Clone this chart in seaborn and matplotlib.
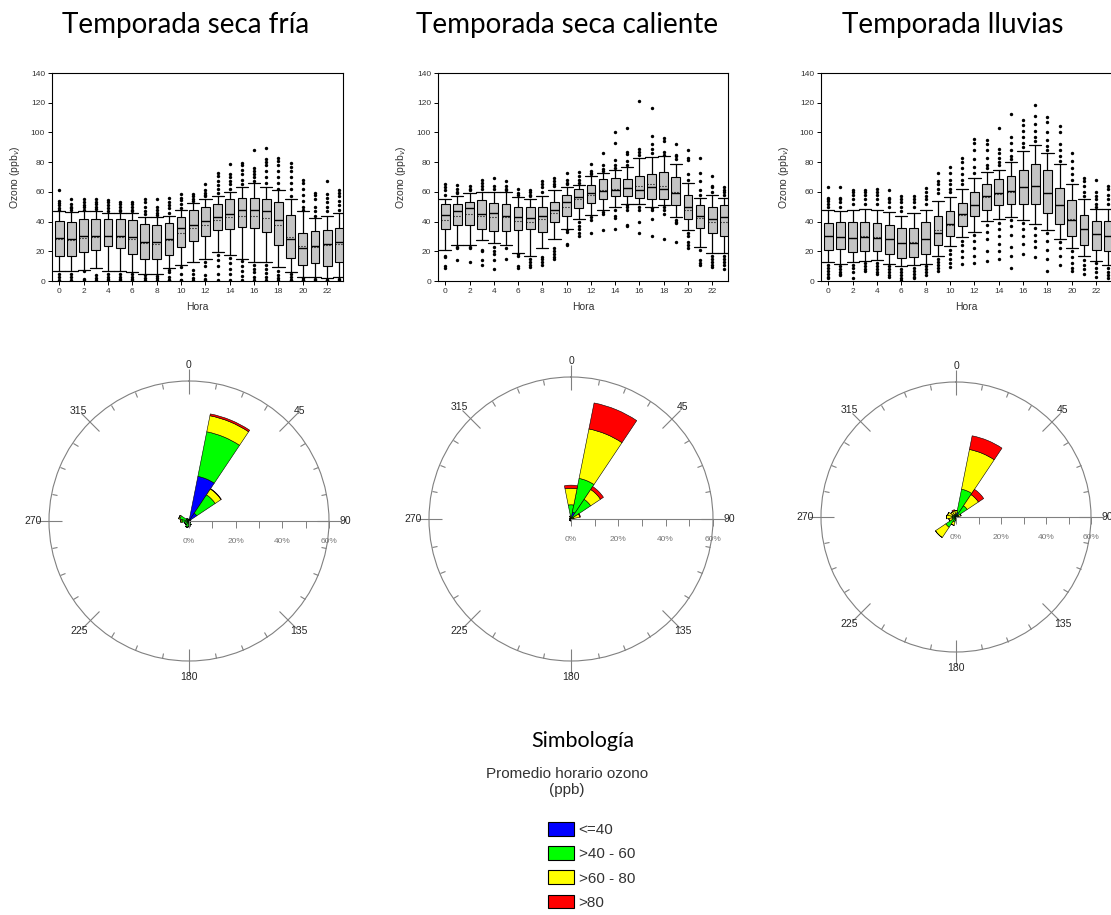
import numpy as np
import pandas as pd
import matplotlib
matplotlib.use("Agg")
import matplotlib.pyplot as plt
from matplotlib.patches import Patch
import seaborn as sns

# ---------------- data: hourly ozone box statistics ----------------
hours = list(range(24))
seasons = ["Temporada seca fría", "Temporada seca caliente", "Temporada lluvias"]

# Temporada seca fria
fria_p10 = [7, 7, 7.5, 9, 7, 7, 6, 5, 5, 8.5, 11, 12.5, 15, 19.5, 17.5, 15, 12.5, 13, 9.5, 6, 2.5, 2.5, 2, 2.5]
fria_q1 = [17, 16.5, 19.5, 21, 23.5, 22, 18.5, 14.5, 14.5, 17.5, 23, 27, 30.5, 34.5, 35, 36.5, 36, 33, 24, 15.5, 11, 12, 10, 12.5]
fria_med = [29, 28.5, 30.5, 30.5, 30.5, 30.5, 29.5, 26.5, 26.5, 28.5, 35.5, 37.5, 40.5, 43, 45, 47.5, 48, 47, 41, 28, 22.5, 23.5, 25, 26]
fria_q3 = [40.5, 40, 42, 42, 42, 41.5, 41, 38.5, 37.5, 39, 43, 48, 49.5, 52, 55, 56, 56, 55.5, 53.5, 44.5, 32.5, 33.5, 34.5, 36]
fria_p90 = [47, 46.5, 47, 47, 45.5, 45.5, 46, 43, 43, 44, 47.5, 52.5, 55.5, 57.5, 60, 63.5, 66, 63, 61, 55.5, 47, 42.5, 44, 45.5]
fria_mean = [28, 27.5, 29, 29.5, 30, 29.5, 28, 25.5, 25, 27.5, 32.5, 35.5, 38, 41, 43, 43.5, 43.5, 42.5, 38, 29.5, 23.5, 23, 24.5, 25]
fria_out = [
    [61.5, 54, 52.5, 51, 49, 48, 5, 3, 1, 0],
    [55.5, 51.5, 50, 49, 48, 5, 3, 1, 0],
    [55.5, 53, 51, 50, 48, 6.5, 1.5, 0.5],
    [55, 53, 51.5, 50, 48.5, 4, 2, 0.5],
    [54.5, 53, 51, 49, 47, 5, 3, 1.5, 0.5],
    [53, 52, 50, 48, 47, 5, 3, 1.5, 0.5],
    [53, 52, 50, 48, 47, 4.5, 3, 1.5, 0.5],
    [55, 53, 49.5, 47, 45, 4, 2, 0.5],
    [55, 50, 48, 46, 44.5, 3.5, 2, 0.5],
    [56, 53, 51, 49, 46, 7.5, 6, 3, 1, 0.5],
    [58.5, 56, 54.5, 52, 49, 9.5, 4.5, 1, 0.5],
    [58.5, 57, 55.5, 54, 7.5, 5, 2, 0.5],
    [65, 61, 59.5, 58, 57, 13, 10, 4, 1.5, 0.5],
    [73, 71, 67, 64.5, 62, 59, 17.5, 14, 10, 5, 0.5],
    [78.5, 72, 70, 67.5, 65, 62, 15.5, 12, 8, 5, 0.5],
    [79.5, 78, 75, 72, 68, 65, 13.5, 10, 7, 3.5, 0.5],
    [88.5, 76, 74, 72, 70, 67.5, 10.5, 8, 6, 3, 0.5],
    [89.5, 82, 80, 78, 74, 70, 66, 10.5, 8, 5.5, 3, 0.5],
    [83, 81, 78, 74, 70, 66, 62, 7, 4, 2, 0.5],
    [79.5, 77, 74, 70, 66, 62, 57, 5, 3, 1, 0.5],
    [68, 66, 62, 58, 54, 50, 48, 2, 1, 0.5],
    [59.5, 58, 55, 50, 47, 44, 1.5, 0.5],
    [67, 58.5, 56, 53.5, 50, 47, 1, 0.5],
    [61.5, 59, 57, 54, 51, 48, 1.5, 0.5],
]

# Temporada seca caliente
cal_p10 = [21, 24.5, 24.5, 27.5, 25.5, 24, 19, 16.5, 22, 28.5, 35, 41.5, 44.5, 47.5, 49.5, 52, 52, 50, 51, 43, 34, 23, 19, 19]
cal_q1 = [35, 37.5, 37.5, 35, 33.5, 33.5, 34, 35, 33, 39.5, 44, 49, 52.5, 55, 57.5, 57.5, 56, 55.5, 55.5, 51, 41.5, 36, 32, 30]
cal_med = [44.5, 47, 49, 45, 45.5, 44, 43, 42.5, 43.5, 47.5, 53, 56.5, 59, 60.5, 61, 62.5, 61, 63.5, 62, 59, 50, 43.5, 41.5, 43]
cal_q3 = [52, 52, 53.5, 54.5, 52.5, 51.5, 50, 50, 50, 53, 58, 62, 64.5, 68.5, 69, 68.5, 70.5, 72, 73.5, 70, 58, 51, 49.5, 51]
cal_p90 = [55.5, 57, 59, 60, 60, 60, 56.5, 55, 57, 61, 63.5, 64.5, 70.5, 73, 75, 77, 83, 83.5, 84, 79, 66, 56, 58, 56]
cal_mean = [41, 44, 45, 44, 43, 43, 40.5, 40, 41.5, 46, 50, 55, 58, 61, 62, 62.5, 64, 65.5, 64, 60, 48, 42.5, 39.5, 40]
cal_out = [
    [65, 63, 61, 58, 17, 16, 10, 9],
    [64.5, 62, 60, 59, 23, 22, 14],
    [64, 62, 61, 23, 22, 12.5],
    [68, 66, 64, 62, 21, 20, 14, 11],
    [69, 64, 62, 23, 20, 18, 14, 8],
    [67, 64, 62, 61, 22, 15],
    [62, 59, 58, 18, 17, 10, 9],
    [61, 60, 58, 57, 15, 13, 11, 9.5],
    [67, 65, 63, 60, 16, 15, 13, 11],
    [69.5, 67, 65, 64, 22, 20, 18, 16, 14.5],
    [73, 68, 66, 65, 34, 33, 25, 24],
    [73.5, 70.5, 68, 66, 40, 37, 35, 32, 30],
    [78.5, 74, 73, 72, 43, 41, 32],
    [86, 78, 75.5, 74, 46.5, 45, 34],
    [100, 93, 81.5, 78, 76, 48, 44, 42.5, 35],
    [103, 87, 85.5, 80.5, 78, 51, 50, 48, 38, 37],
    [121, 89, 87, 85, 50, 48, 40, 32.5],
    [116.5, 97.5, 92.5, 89, 86, 49, 48, 42, 30],
    [96, 94, 87, 85, 50, 48, 45, 28],
    [92, 85, 84, 82, 41, 40, 39, 26],
    [88, 83, 81.5, 72, 68, 32, 30, 26, 24, 22.5],
    [83, 72.5, 67, 61, 58, 21, 14, 12, 10.5],
    [70.5, 64, 63, 60, 17, 15, 13, 11, 9.5],
    [63, 61.5, 60, 58, 17, 15, 13, 11, 8],
]

# Temporada lluvias
llu_p10 = [13, 11.5, 12.5, 13.5, 14, 11.5, 10, 10.5, 11.5, 17, 23.5, 29.5, 33, 40.5, 41.5, 43, 41, 38.5, 34.5, 28.5, 22, 16.5, 13.5, 11]
llu_q1 = [21, 21.5, 19.5, 20, 20, 18, 15.5, 16, 18, 24, 30.5, 37, 44, 47.5, 51, 51.5, 52, 52, 46, 38.5, 30.5, 24.5, 21, 20]
llu_med = [30, 29.5, 29, 29.5, 29, 28, 25.5, 25.5, 28.5, 32.5, 38.5, 45, 51, 57.5, 59, 60.5, 63, 64, 59.5, 51, 41, 35, 31.5, 30]
llu_q3 = [39, 39.5, 39.5, 40, 39, 37.5, 35.5, 36, 39.5, 43.5, 47, 52.5, 60, 65, 68.5, 70.5, 75, 79, 74.5, 62.5, 54.5, 44.5, 40.5, 40.5]
llu_p90 = [47.5, 47, 48, 48.5, 48, 46.5, 44, 46, 48, 54, 56.5, 62, 69.5, 73.5, 75, 80, 87.5, 91.5, 86, 79, 65.5, 55.5, 48.5, 48.5]
llu_mean = [30, 29.5, 29, 30, 29.5, 28, 25.5, 26, 28, 34, 38, 44.5, 51, 56.5, 58.5, 60, 63, 64, 59.5, 51, 42, 35, 31.5, 30]
llu_out = [
    [63, 56, 55, 54, 52, 50, 11, 9, 7, 5, 3, 2],
    [63, 56, 55, 53, 50, 10, 8, 6, 5, 4],
    [61.5, 60, 58, 55, 52, 11, 9, 6, 2],
    [61, 60, 58, 55, 52, 12, 10, 8, 7],
    [62, 60, 58, 55, 52, 12, 10, 8, 6, 4.5],
    [61, 56, 55, 53, 50, 10, 8, 6, 4, 2.5],
    [57.5, 55, 53, 50, 47, 8, 6, 4, 2, 0.5],
    [57.5, 55, 53, 50, 9, 7, 5, 3, 2],
    [62.5, 60, 57, 55, 52, 10, 8, 6, 4],
    [72.5, 67, 65, 62, 59, 15, 13, 11, 9, 7],
    [77, 73, 68, 65, 62, 60, 21, 18, 15, 12, 9.5],
    [83, 80, 76, 72, 68, 65, 27, 24, 20, 16, 11.5],
    [95.5, 93, 88, 82, 77, 73, 31, 27, 22, 17, 12],
    [95, 92, 88, 83, 78, 76, 38, 33, 28, 20, 13.5],
    [103, 89, 86, 83, 80, 78, 39, 35, 30, 25, 20, 15],
    [112.5, 97, 93, 88, 84, 82, 41, 37, 31, 23, 17, 9],
    [108.5, 105, 101, 97, 93, 90, 39, 35, 30, 25, 18.5],
    [118.5, 111, 106, 101, 97, 94, 36, 31, 27, 23, 16],
    [110.5, 107, 100, 95, 91, 88, 32, 27, 21, 15, 7],
    [104.5, 100, 92, 88, 84, 81, 26, 22, 17, 11],
    [86, 81, 76, 72, 68, 20, 16, 12, 9, 6.5],
    [69.5, 67, 64, 60, 57, 14, 11, 8, 4.5],
    [68, 60, 57, 55, 52, 50, 12, 9, 6, 3],
    [64, 62, 58, 55, 52, 9, 6, 4, 2],
]

# ---------------- data: wind roses (% of hours per direction and class) ----------------
directions = [0, 22.5, 45, 67.5, 90, 112.5, 135, 157.5, 180, 202.5, 225, 247.5, 270, 292.5, 315, 337.5]
class_labels = ["<=40", ">40 - 60", ">60 - 80", ">80"]
class_colors = ["#0000ff", "#00ff00", "#ffff00", "#ff0000"]

fria_blue = [0.3, 19.5, 4, 0.3, 0.2, 0.2, 0.3, 0.8, 1, 0.8, 0.5, 0.5, 0.5, 0.5, 0.3, 0.3]
fria_green = [0.5, 19.5, 9.5, 0.5, 0.3, 0.3, 0.5, 1, 1.5, 2, 1.5, 1.5, 2.5, 3.5, 1, 0.5]
fria_yellow = [0, 7, 3, 0, 0, 0, 0, 0, 0, 0, 0, 0, 0.5, 0.5, 0, 0]
fria_red = [0, 0.8, 0.2, 0, 0, 0, 0, 0, 0, 0, 0, 0, 0, 0, 0, 0]

cal_blue = [0.5, 3, 0.5, 0.3, 0.2, 0.2, 0.2, 0.2, 0.3, 0.3, 0.3, 0.2, 0.2, 0.2, 0.2, 0.3]
cal_green = [5.5, 14.5, 9.5, 1, 0.5, 0.3, 0.3, 0.3, 0.5, 0.5, 0.5, 0.3, 0.3, 0.3, 0.3, 0.5]
cal_yellow = [7, 21.3, 5, 2.5, 0.5, 0, 0, 0, 0, 0, 0, 0, 0, 0, 0, 0.5]
cal_red = [1.3, 11.2, 1.5, 0.3, 0, 0, 0, 0, 0, 0, 0, 0, 0, 0, 0, 0]

llu_blue = [0.3, 2, 1, 0.3, 0.2, 0.2, 0.2, 0.2, 0.3, 0.3, 0.5, 0.3, 0.3, 0.3, 0.3, 0.3]
llu_green = [1, 10.6, 5, 1, 0.5, 0.3, 0.3, 0.3, 0.7, 2, 5, 1.5, 1.5, 1.5, 1, 1]
llu_yellow = [1.5, 18, 6, 1, 0.5, 0, 0, 0, 0.5, 1.5, 5.5, 1.5, 2.5, 2, 1.5, 1.5]
llu_red = [0, 6.2, 2.8, 0, 0, 0, 0, 0, 0, 0, 0, 0, 0, 0, 0, 0.5]

box_data = [
    (fria_p10, fria_q1, fria_med, fria_q3, fria_p90, fria_mean, fria_out),
    (cal_p10, cal_q1, cal_med, cal_q3, cal_p90, cal_mean, cal_out),
    (llu_p10, llu_q1, llu_med, llu_q3, llu_p90, llu_mean, llu_out),
]
rose_data = [
    (fria_blue, fria_green, fria_yellow, fria_red),
    (cal_blue, cal_green, cal_yellow, cal_red),
    (llu_blue, llu_green, llu_yellow, llu_red),
]

# ---------------- figure ----------------
sns.set_style("white")
plt.rcParams["font.family"] = ["Liberation Sans", "DejaVu Sans"]

W, H = 1111, 915
fig = plt.figure(figsize=(W / 100, H / 100), dpi=100)


def fig_rect(x0, y0, x1, y1):
    # pixel box (top-left origin) -> figure fraction rect
    return [x0 / W, (H - y1) / H, (x1 - x0) / W, (y1 - y0) / H]


box_boxes = [(52, 73, 343, 281), (438, 73, 728, 281), (821, 73, 1112, 281)]
title_x = [186, 567, 953]
rose_geom = [(189, 521, 140), (571, 519, 142), (956, 517, 135)]

for i in range(3):
    p10, q1, med, q3, p90, mean, outs = box_data[i]
    ax = fig.add_axes(fig_rect(*box_boxes[i]))
    stats = []
    for h in hours:
        stats.append(dict(med=med[h], q1=q1[h], q3=q3[h], whislo=p10[h], whishi=p90[h],
                          mean=mean[h], fliers=[]))
    ax.bxp(stats, positions=hours, widths=0.72, capwidths=1.0, patch_artist=True,
           showmeans=True, meanline=True, showfliers=False,
           boxprops=dict(facecolor="#c4c4c4", edgecolor="black", linewidth=0.8),
           medianprops=dict(color="black", linewidth=1.0),
           meanprops=dict(color="black", linestyle=":", linewidth=0.8),
           whiskerprops=dict(color="black", linewidth=0.9),
           capprops=dict(color="black", linewidth=0.9))
    out_df = pd.DataFrame([(h, v) for h in hours for v in outs[h]], columns=["Hora", "Ozono"])
    sns.scatterplot(data=out_df, x="Hora", y="Ozono", ax=ax, color="black", s=6,
                    linewidth=0, legend=False, zorder=3)
    ax.set_xlim(-0.6, 23.3)
    ax.set_ylim(0, 140)
    ax.set_xticks(range(0, 24, 2))
    ax.set_xticklabels([str(h) for h in range(0, 24, 2)])
    ax.set_yticks(range(0, 141, 20))
    ax.tick_params(direction="out", length=3, width=0.7, labelsize=6, colors="black",
                   labelcolor="#333333", bottom=True, left=True, pad=2)
    for sp in ax.spines.values():
        sp.set_color("black")
        sp.set_linewidth(0.8)
    ax.set_xlabel("Hora", fontsize=7.5, color="#333333", labelpad=5)
    ax.set_ylabel("Ozono (ppb$_v$)", fontsize=7.5, color="#333333", labelpad=6)

    fig.text(title_x[i] / W, 1 - 25 / H, seasons[i], ha="center", va="center",
             fontsize=20, family=["Lato", "DejaVu Sans"], color="black")

    # wind rose
    cx, cy, R = rose_geom[i]
    pax = fig.add_axes(fig_rect(cx - R, cy - R, cx + R, cy + R), projection="polar")
    pax.set_theta_zero_location("N")
    pax.set_theta_direction(-1)
    theta = np.deg2rad(directions)
    bottom = np.zeros(len(directions))
    for vals, col in zip(rose_data[i], class_colors):
        pax.bar(theta, vals, width=np.deg2rad(22.5), bottom=bottom, color=col,
                edgecolor="black", linewidth=0.4, align="center")
        bottom = bottom + np.array(vals)
    pax.set_ylim(0, 60)
    pax.set_yticks([])
    pax.grid(False)
    pax.set_xticks(np.deg2rad(np.arange(0, 360, 45)))
    pax.set_xticklabels([str(a) for a in range(0, 360, 45)])
    pax.set_xticks(np.deg2rad(np.arange(0, 360, 11.25)), minor=True)
    pax.tick_params(axis="x", which="major", direction="inout", length=9, width=0.8,
                    color="#808080", labelsize=7.5, pad=0, bottom=False, top=True)
    pax.tick_params(axis="x", which="minor", direction="in", length=4, width=0.8,
                    color="#808080", bottom=False, top=True)
    pax.spines["polar"].set_color("#808080")
    pax.spines["polar"].set_linewidth(0.8)
    pax.set_facecolor("none")

    # radial scale along the east axis
    rax = fig.add_axes([cx / W, (H - cy) / H, R / W, 0.0001])
    rax.set_facecolor("none")
    rax.set_xlim(0, 60)
    rax.set_yticks([])
    rax.set_xticks(range(0, 61, 10))
    rax.set_xticklabels(["0%", "", "20%", "", "40%", "", "60%"])
    rax.tick_params(axis="x", direction="out", length=5, width=0.7, color="#808080",
                    labelsize=6, labelcolor="#777777", pad=7, bottom=True)
    for side in ["left", "right", "top"]:
        rax.spines[side].set_visible(False)
    rax.spines["bottom"].set_color("#808080")
    rax.spines["bottom"].set_linewidth(0.8)

# legend block
fig.text(583 / W, 1 - 741 / H, "Simbología", ha="center", va="center",
         fontsize=15.5, family=["Lato", "DejaVu Sans"], color="black")
fig.text(567 / W, 1 - 782 / H, "Promedio horario ozono\n(ppb)", ha="center", va="center",
         fontsize=11, color="#333333", linespacing=1.2)
handles = [Patch(facecolor=c, edgecolor="black", linewidth=0.8) for c in class_colors]
fig.legend(handles, class_labels, loc="upper left", bbox_to_anchor=(548 / W, 1 - 822 / H),
           frameon=False, fontsize=11, handlelength=1.7, handleheight=1.0,
           handletextpad=0.3, labelspacing=0.6, borderaxespad=0, borderpad=0,
           labelcolor="#333333")

fig.savefig("out.png", dpi=100)
